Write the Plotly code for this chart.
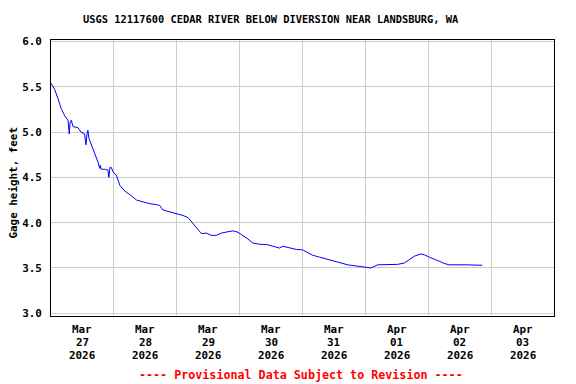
import plotly.graph_objects as go

times = [
    "2026-03-27 00:00", "2026-03-27 01:25", "2026-03-27 02:40", "2026-03-27 03:55",
    "2026-03-27 05:15", "2026-03-27 06:30", "2026-03-27 06:58", "2026-03-27 07:15",
    "2026-03-27 07:45", "2026-03-27 08:25", "2026-03-27 10:15", "2026-03-27 11:30",
    "2026-03-27 12:50", "2026-03-27 13:20", "2026-03-27 13:45", "2026-03-27 14:05",
    "2026-03-27 14:30", "2026-03-27 15:20", "2026-03-27 16:40", "2026-03-27 17:55",
    "2026-03-27 18:35", "2026-03-27 18:50", "2026-03-27 19:10", "2026-03-27 20:30",
    "2026-03-27 21:45", "2026-03-27 22:05", "2026-03-27 22:30", "2026-03-27 23:00",
    "2026-03-27 23:45", "2026-03-28 00:15", "2026-03-28 01:00", "2026-03-28 02:20",
    "2026-03-28 04:10", "2026-03-28 06:05", "2026-03-28 08:40", "2026-03-28 11:10",
    "2026-03-28 13:40", "2026-03-28 16:15", "2026-03-28 17:30", "2026-03-28 18:45",
    "2026-03-28 21:20", "2026-03-28 23:55", "2026-03-29 02:25", "2026-03-29 04:20",
    "2026-03-29 06:15", "2026-03-29 08:05", "2026-03-29 09:25", "2026-03-29 11:20",
    "2026-03-29 13:10", "2026-03-29 15:05", "2026-03-29 17:00", "2026-03-29 19:30",
    "2026-03-29 21:25", "2026-03-29 23:20", "2026-03-30 01:15", "2026-03-30 03:10",
    "2026-03-30 05:05", "2026-03-30 08:15", "2026-03-30 10:10", "2026-03-30 12:40",
    "2026-03-30 15:15", "2026-03-30 16:30", "2026-03-30 19:05", "2026-03-30 21:35",
    "2026-03-31 00:05", "2026-03-31 02:00", "2026-03-31 03:55", "2026-03-31 06:30",
    "2026-03-31 09:00", "2026-03-31 11:30", "2026-03-31 14:05", "2026-03-31 17:15",
    "2026-03-31 21:05", "2026-03-31 23:35", "2026-04-01 02:10", "2026-04-01 04:40",
    "2026-04-01 08:30", "2026-04-01 12:20", "2026-04-01 14:55", "2026-04-01 16:45",
    "2026-04-01 18:40", "2026-04-01 21:15", "2026-04-01 22:30", "2026-04-02 00:25",
    "2026-04-02 02:20", "2026-04-02 04:10", "2026-04-02 06:05", "2026-04-02 08:00",
    "2026-04-02 14:20", "2026-04-02 20:40",
]
gage_height = [
    5.54, 5.47, 5.37, 5.26,
    5.18, 5.13, 4.98, 5.10,
    5.13, 5.06, 5.05, 5.00,
    4.98, 4.86, 4.98, 5.02,
    4.93, 4.87, 4.76, 4.67,
    4.60, 4.635, 4.59, 4.59,
    4.58, 4.50, 4.61, 4.61,
    4.56, 4.54, 4.52, 4.41,
    4.35, 4.31, 4.25, 4.23,
    4.21, 4.20, 4.19, 4.14,
    4.12, 4.105, 4.08, 4.055,
    3.99, 3.93, 3.88, 3.885,
    3.86, 3.86, 3.885, 3.90,
    3.91, 3.895, 3.86, 3.82,
    3.775, 3.76, 3.76, 3.74,
    3.72, 3.74, 3.72, 3.705,
    3.70, 3.67, 3.64, 3.62,
    3.60, 3.575, 3.555, 3.535,
    3.52, 3.51, 3.50, 3.535,
    3.54, 3.54, 3.555, 3.59,
    3.63, 3.655, 3.645, 3.62,
    3.60, 3.575, 3.55, 3.535,
    3.535, 3.53,
]

label_times = ["2026-03-27 12:00", "2026-03-28 12:00", "2026-03-29 12:00", "2026-03-30 12:00",
               "2026-03-31 12:00", "2026-04-01 12:00", "2026-04-02 12:00", "2026-04-03 12:00"]
label_month = ["Mar", "Mar", "Mar", "Mar", "Mar", "Apr", "Apr", "Apr"]
label_day = ["27", "28", "29", "30", "31", "01", "02", "03"]
label_year = ["2026"] * 8
day_grid = ["2026-03-28", "2026-03-29", "2026-03-30", "2026-03-31",
            "2026-04-01", "2026-04-02", "2026-04-03"]
y_ticks = [3.0, 3.5, 4.0, 4.5, 5.0, 5.5, 6.0]
y_tick_text = ["3.0", "3.5", "4.0", "4.5", "5.0", "5.5", "6.0"]

FONT = "DejaVu Sans Mono"
TICK_FONT = dict(family=FONT, size=10.9, color="black", weight="bold")

fig = go.Figure()
fig.add_trace(go.Scatter(x=times, y=gage_height, mode="lines",
                         line=dict(color="#0000ff", width=1), showlegend=False,
                         hoverinfo="skip"))

annotations = [
    dict(text="USGS 12117600 CEDAR RIVER BELOW DIVERSION NEAR LANDSBURG, WA",
         xref="paper", yref="paper", x=0.437, y=1.076, xanchor="center", yanchor="middle",
         showarrow=False, font=dict(family=FONT, size=10.4, color="black", weight="bold")),
    dict(text="Gage height, feet", textangle=-90,
         xref="paper", yref="paper", x=-0.0745, y=0.482, xanchor="center", yanchor="middle",
         showarrow=False, font=TICK_FONT),
    dict(text="---- Provisional Data Subject to Revision ----",
         xref="paper", yref="paper", x=0.497, y=-0.2138, xanchor="center", yanchor="middle",
         showarrow=False, font=dict(family=FONT, size=11.7, color="#ff0000", weight="bold")),
]
for row, ypos in ((label_month, -0.0507), (label_day, -0.0978), (label_year, -0.1449)):
    for t, txt in zip(label_times, row):
        annotations.append(dict(text=txt, xref="x", yref="paper", x=t, y=ypos,
                                xanchor="center", yanchor="middle", showarrow=False,
                                font=TICK_FONT))

# The page body has an 8px default margin, so the figure is 8px smaller
fig.update_layout(
    width=568, height=376,
    margin=dict(l=43, r=22, t=32, b=68, autoexpand=False),
    paper_bgcolor="white", plot_bgcolor="white",
    font=dict(family=FONT, size=10.9, color="black", weight="bold"),
    xaxis=dict(
        range=["2026-03-27 00:00", "2026-04-04 00:00"],
        tickmode="array", tickvals=label_times, showticklabels=False,
        showgrid=False, ticks="", automargin=False,
        showline=True, mirror=True, linecolor="black", linewidth=1,
        zeroline=False,
        minor=dict(tickmode="array", tickvals=day_grid, showgrid=True,
                   gridcolor="#cccccc", gridwidth=1, ticks=""),
    ),
    yaxis=dict(
        range=[2.97, 6.017],
        tickmode="array", tickvals=y_ticks, ticktext=y_tick_text,
        showgrid=True, gridcolor="#cccccc", gridwidth=1, ticks="",
        ticklabelstandoff=6, automargin=False,
        showline=True, mirror=True, linecolor="black", linewidth=1,
        zeroline=False,
        tickfont=TICK_FONT,
    ),
    annotations=annotations,
)

fig.write_html("out.html")
